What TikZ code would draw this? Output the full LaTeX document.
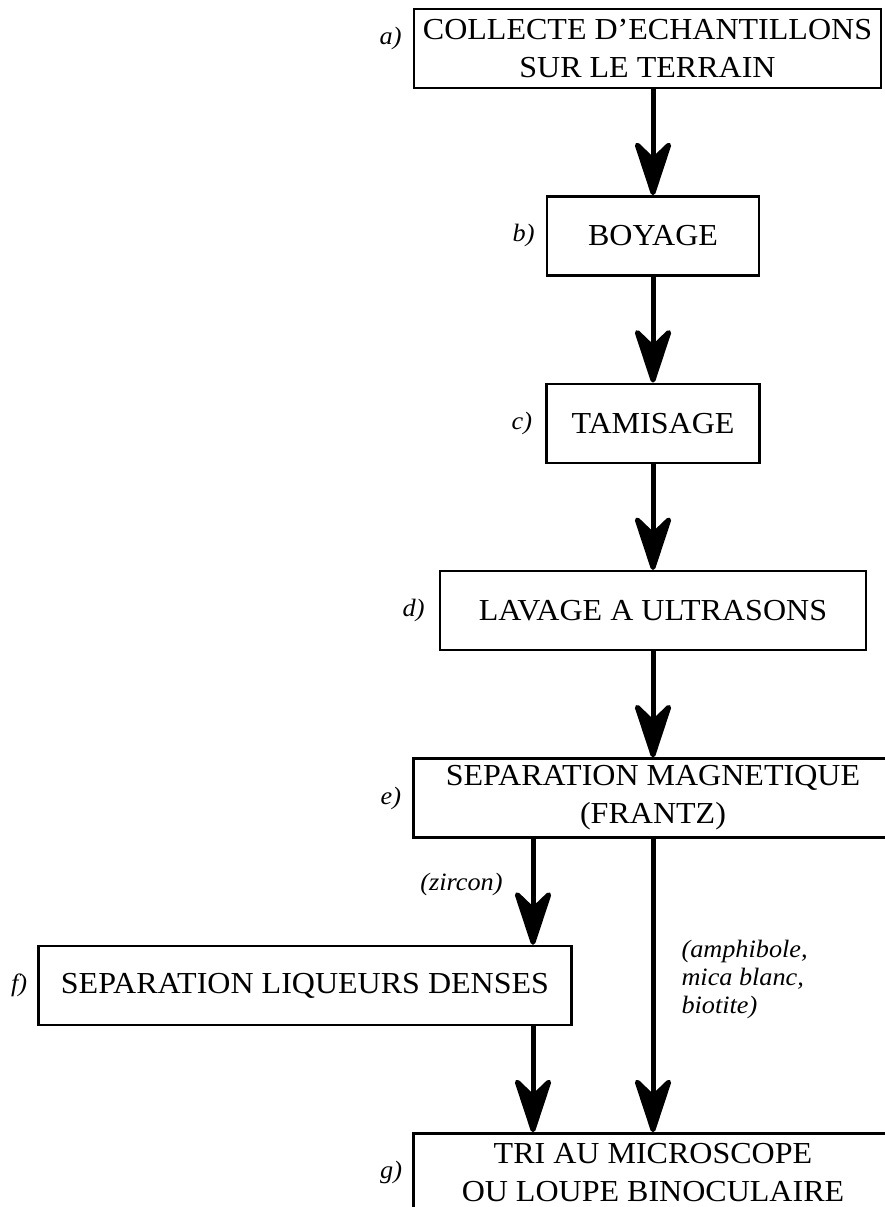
\documentclass[tikz,border=0pt]{standalone}
\usepackage{fontspec}
\setmainfont[FakeStretch=1.05]{Liberation Serif}
\usetikzlibrary{positioning, arrows.meta}

\begin{document}
\begin{tikzpicture}[x=1pt, y=-1pt, node distance={106pt},
  box/.style = {draw, line width=2.4pt, minimum height=79pt, inner sep=0pt, align=center, font=\fontsize{30.5}{38}\selectfont},
  tag/.style = {inner sep=0pt, font=\fontsize{25}{28}\selectfont\itshape},
  note/.style = {inner sep=0pt, align=left, font=\fontsize{25}{28}\selectfont\itshape},
  flow/.style = {line width=5pt, -{Stealth[length=64pt, width=42pt, inset=20pt, round=false]}}]
\useasboundingbox (0,0) rectangle (885,1207);
\node[box, minimum width=467pt] (a) at (647.5,48.5) {COLLECTE D’ECHANTILLONS\\SUR LE TERRAIN};
\node[box, minimum width=212pt] (b) [below=of a, xshift=5.5pt] {BOYAGE};
\node[box, minimum width=213pt] (c) [below=of b] {TAMISAGE};
\node[box, minimum width=426pt] (d) [below=of c] {LAVAGE A ULTRASONS};
\node[box, minimum width=479pt] (e) [below=of d] {SEPARATION MAGNETIQUE\\(FRANTZ)};
\node[box, minimum width=533pt] (f) [below=of e, xshift=-348pt] {SEPARATION LIQUEURS DENSES};
\node[box, minimum width=479pt] (g) [below=of f, xshift=348pt] {TRI AU MICROSCOPE\\OU LOUPE BINOCULAIRE};
\node[tag] (ta) [left=11pt of a, yshift=10pt] {a)};
\node[tag] (tb) [left=11pt of b] {b)};
\node[tag] (tc) [left=13pt of c] {c)};
\node[tag] (td) [left=14pt of d] {d)};
\node[tag] (te) [left=11pt of e] {e)};
\node[tag] (tf) [left=10pt of f] {f)};
\node[tag] (tg) [left=10pt of g] {g)};
\coordinate (zx) at (533,0);
\draw[flow] (a.south -| b) -- (b);
\draw[flow] (b) -- (c);
\draw[flow] (c) -- (d);
\draw[flow] (d) -- (e);
\draw[flow] (e.south -| zx) -- (f.north -| zx) node[note, pos=0.43, left=28pt] (zr) {(zircon)};
\draw[flow] (e) -- (g) node[note, pos=0.48, right=26pt] (am) {(amphibole,\\mica blanc,\\biotite)};
\draw[flow] (f.south -| zx) -- (g.north -| zx);
\end{tikzpicture}
\end{document}
